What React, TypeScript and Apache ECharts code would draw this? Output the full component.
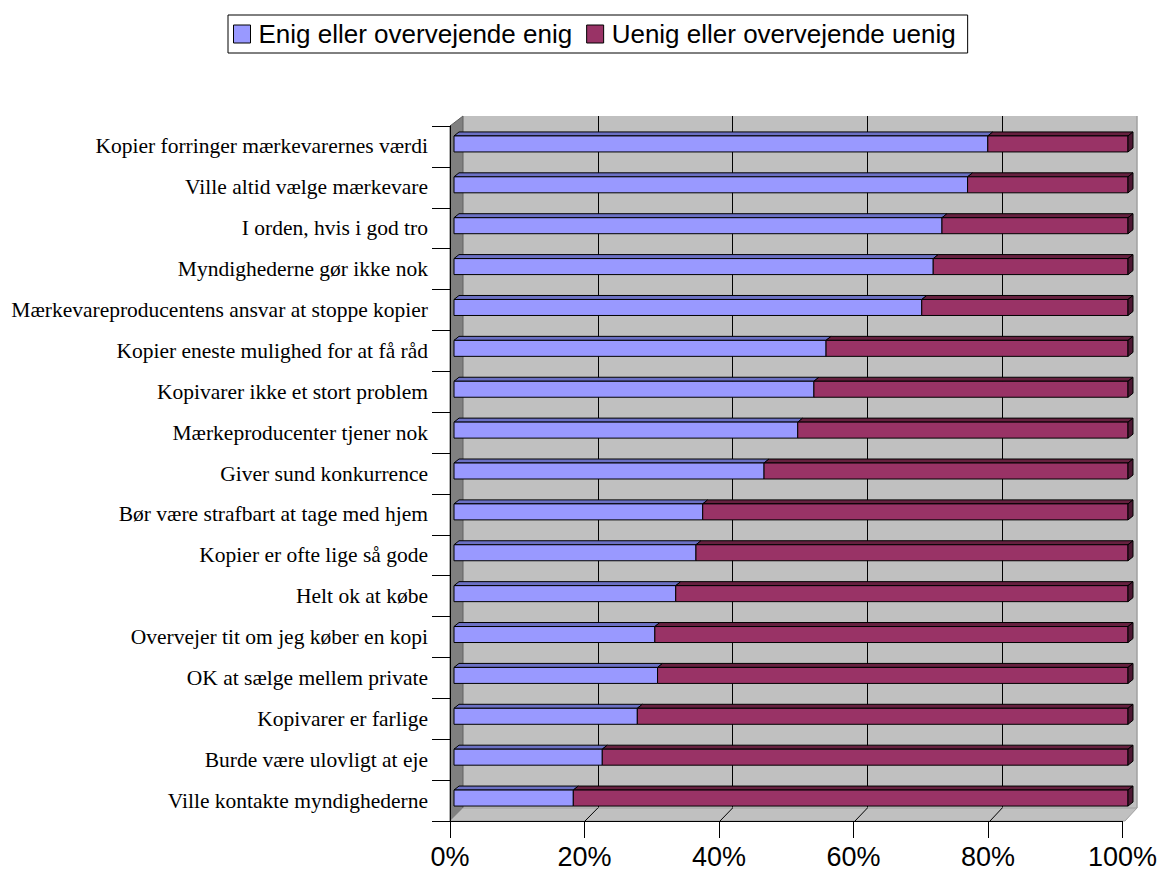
import React, { useEffect, useRef } from "react";
import * as echarts from "echarts";

const categories = [
  "Kopier forringer mærkevarernes værdi",
  "Ville altid vælge mærkevare",
  "I orden, hvis i god tro",
  "Myndighederne gør ikke nok",
  "Mærkevareproducentens ansvar at stoppe kopier",
  "Kopier eneste mulighed for at få råd",
  "Kopivarer ikke et stort problem",
  "Mærkeproducenter tjener nok",
  "Giver sund konkurrence",
  "Bør være strafbart at tage med hjem",
  "Kopier er ofte lige så gode",
  "Helt ok at købe",
  "Overvejer tit om jeg køber en kopi",
  "OK at sælge mellem private",
  "Kopivarer er farlige",
  "Burde være ulovligt at eje",
  "Ville kontakte myndighederne",
];

const enig = [79.2, 76.2, 72.4, 71.1, 69.4, 55.2, 53.4, 51.0, 46.0, 36.9, 35.9, 32.9, 29.8, 30.2, 27.2, 22.0, 17.7];
const uenig = [20.8, 23.8, 27.6, 28.9, 30.6, 44.8, 46.6, 49.0, 54.0, 63.1, 64.1, 67.1, 70.2, 69.8, 72.8, 78.0, 82.3];

const seriesNames = ["Enig eller overvejende enig", "Uenig eller overvejende uenig"];
const xTicks = [0, 20, 40, 60, 80, 100];

const BLUE = "#9999ff";
const BLUE_TOP = "#6b70c4";
const RED = "#993366";
const RED_TOP = "#66203f";
const RED_SIDE = "#4d1833";

const make3D = (color: string, topColor: string, sideColor: string, withSide: boolean) =>
  (params: any, api: any) => {
    const s = api.coord([api.value(0), api.value(2)]);
    const e = api.coord([api.value(1), api.value(2)]);
    const h = 16, dx = 5, dy = 4;
    const x0 = s[0], x1 = e[0], y0 = s[1] - h / 2;
    const children: any[] = [
      {
        type: "polygon",
        shape: { points: [[x0, y0], [x0 + dx, y0 - dy], [x1 + dx, y0 - dy], [x1, y0]] },
        style: { fill: topColor, stroke: "#000", lineWidth: 1 },
      },
      {
        type: "rect",
        shape: { x: x0, y: y0, width: x1 - x0, height: h },
        style: { fill: color, stroke: "#000", lineWidth: 1 },
      },
    ];
    if (withSide) {
      children.push({
        type: "polygon",
        shape: { points: [[x1, y0], [x1 + dx, y0 - dy], [x1 + dx, y0 + h - dy], [x1, y0 + h]] },
        style: { fill: sideColor, stroke: "#000", lineWidth: 1 },
      });
    }
    return { type: "group", children };
  };

export default function App() {
  const ref = useRef<HTMLDivElement>(null);
  useEffect(() => {
    if (!ref.current) return;
    const chart = echarts.init(ref.current, undefined, { renderer: "svg" });

    const frontL = 450, frontR = 1125, frontB = 821, frontT = 126;
    const backL = 463, backR = 1137, backB = 808, backT = 116;

    const floorLines = xTicks.slice(1, -1).map((t) => ({
      type: "line",
      z: 1,
      shape: {
        x1: frontL + ((frontR - frontL) * t) / 100,
        y1: frontB,
        x2: backL + ((backR - backL) * t) / 100,
        y2: backB,
      },
      style: { stroke: "#000", lineWidth: 1 },
    }));

    chart.setOption({
      animation: false,
      backgroundColor: "#ffffff",
      legend: {
        left: 228,
        top: 15,
        data: [
          { name: seriesNames[0], icon: "rect", itemStyle: { color: BLUE, borderColor: "#000", borderWidth: 1 } },
          { name: seriesNames[1], icon: "rect", itemStyle: { color: RED, borderColor: "#000", borderWidth: 1 } },
        ],
        itemWidth: 17,
        itemHeight: 18,
        itemGap: 14,
        padding: [6, 12, 6, 5],
        borderColor: "#000",
        borderWidth: 1,
        textStyle: { fontFamily: "Liberation Sans, Arial", fontSize: 26, color: "#000", padding: [0, 0, 0, 3] },
      },
      grid: [
        { left: backL, top: backT, width: backR - backL, height: backB - backT, show: true, backgroundColor: "#c0c0c0", borderWidth: 0 },
        { left: 454, top: 123.5, width: 674, height: 695 },
        { left: frontL, top: frontT, width: frontR - frontL, height: frontB - frontT },
      ],
      xAxis: [
        {
          gridIndex: 0, type: "value", min: 0, max: 100, interval: 20,
          axisLabel: { show: false }, axisLine: { show: false }, axisTick: { show: false },
          splitLine: { show: true, showMinLine: false, showMaxLine: false, lineStyle: { color: "#000", width: 1 } },
        },
        {
          gridIndex: 1, type: "value", min: 0, max: 100, show: false,
        },
        {
          gridIndex: 2, type: "value", min: 0, max: 100, interval: 20, z: 3,
          axisLine: { show: true, lineStyle: { color: "#000", width: 1 } },
          axisTick: { show: true, length: 17, lineStyle: { color: "#000" } },
          splitLine: { show: false },
          axisLabel: {
            formatter: "{value}%", margin: 22, color: "#000",
            fontFamily: "Liberation Sans, Arial", fontSize: 27,
          },
        },
      ],
      yAxis: [
        { gridIndex: 0, type: "category", data: categories, inverse: true, show: false },
        { gridIndex: 1, type: "category", data: categories, inverse: true, show: false },
        {
          gridIndex: 2, type: "category", data: categories, inverse: true, z: 3,
          axisLine: { show: true, lineStyle: { color: "#000", width: 1 } },
          axisTick: { show: true, length: 18, interval: 0, lineStyle: { color: "#000" } },
          axisLabel: {
            interval: 0, margin: 22, color: "#000",
            fontFamily: "Liberation Serif, Times New Roman", fontSize: 21.5,
          },
        },
      ],
      graphic: [
        {
          type: "polygon", z: 1,
          shape: { points: [[frontL, frontT], [backL, backT], [backL, backB], [frontL, frontB]] },
          style: { fill: "#808080", stroke: "#606060", lineWidth: 1 },
        },
        {
          type: "polygon", z: 1,
          shape: { points: [[frontL, frontB], [backL, backB], [backR, backB], [frontR, frontB]] },
          style: { fill: "#c0c0c0", stroke: "#a0a0a0", lineWidth: 1 },
        },
        {
          type: "line", z: 1,
          shape: { x1: backR, y1: backT, x2: backR, y2: backB },
          style: { stroke: "#a0a0a0", lineWidth: 1.5 },
        },
        ...floorLines,
      ],
      series: [
        {
          name: seriesNames[0],
          type: "custom",
          xAxisIndex: 1, yAxisIndex: 1, z: 4,
          itemStyle: { color: BLUE, borderColor: "#000" },
          encode: { x: [0, 1], y: 2 },
          renderItem: make3D(BLUE, BLUE_TOP, BLUE_TOP, false),
          data: enig.map((v, i) => [0, v, i]),
        },
        {
          name: seriesNames[1],
          type: "custom",
          xAxisIndex: 1, yAxisIndex: 1, z: 4,
          itemStyle: { color: RED, borderColor: "#000" },
          encode: { x: [0, 1], y: 2 },
          renderItem: make3D(RED, RED_TOP, RED_SIDE, true),
          data: uenig.map((v, i) => [enig[i], enig[i] + v, i]),
        },
      ],
    });
    return () => chart.dispose();
  }, []);
  return (
    <div
      ref={ref}
      style={{ position: "absolute", left: 0, top: 0, width: 1160, height: 871 }}
    />
  );
}
